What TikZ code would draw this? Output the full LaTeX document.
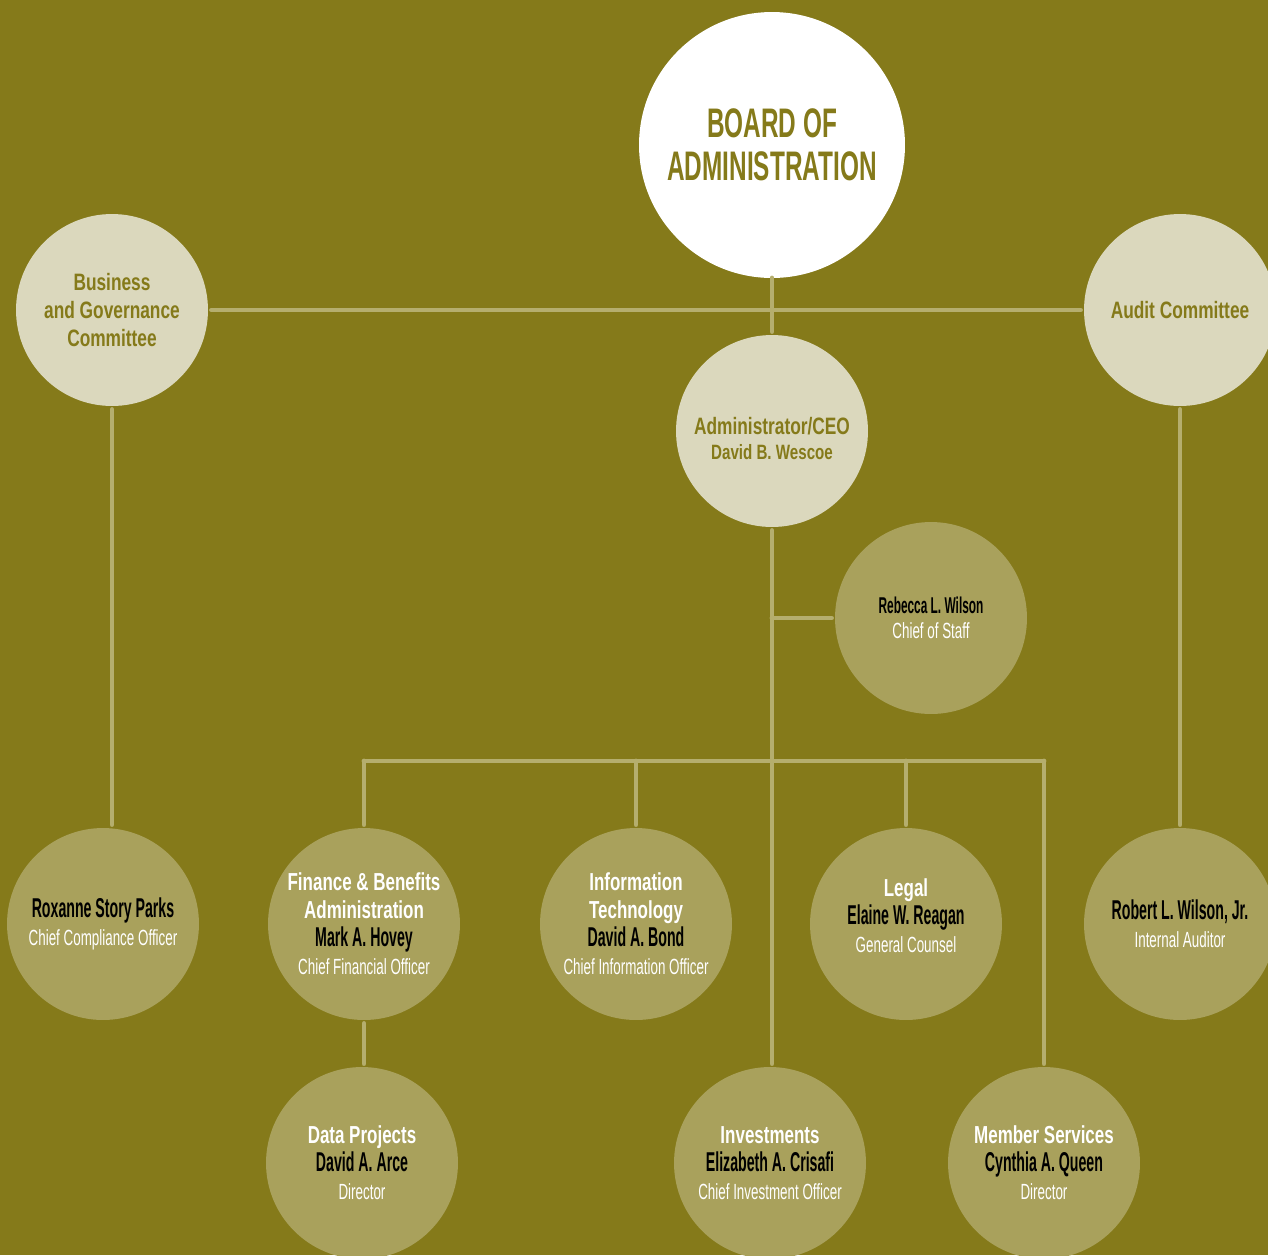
\documentclass[tikz,border=0pt]{standalone}
\usepackage{fontspec}
\usepackage{tikz}
\setmainfont{Liberation Sans}
\newfontfamily\boardfont[FakeStretch=0.59]{Liberation Sans}
\newfontfamily\comfont[FakeStretch=0.73]{Liberation Sans}
\newfontfamily\headfont[FakeStretch=0.69]{Liberation Sans}
\newfontfamily\namefont[FakeStretch=0.52]{Liberation Sans}
\newfontfamily\postfont[FakeStretch=0.61]{Liberation Sans}
\definecolor{olivebg}{HTML}{857A1A}
\definecolor{lightc}{HTML}{DBD8BD}
\definecolor{darkc}{HTML}{A9A15C}
\definecolor{linec}{HTML}{B5AE6E}
\newcommand{\hd}[1]{{\headfont\bfseries\fontsize{14}{16}\selectfont\color{white}#1}}
\newcommand{\nm}[1]{{\namefont\bfseries\fontsize{15.5}{16}\selectfont\color{black}#1}}
\newcommand{\ps}[1]{{\postfont\fontsize{12.5}{16}\selectfont\color{white}#1}}

\begin{document}
\begin{tikzpicture}[x=0.02cm,y=-0.02cm,
  unit/.style={circle,fill=darkc,minimum size=3.84cm,inner sep=0pt,outer sep=2pt,align=center,
    font=\fontsize{14}{16}\selectfont},
  comm/.style={circle,fill=lightc,minimum size=3.84cm,inner sep=0pt,outer sep=2pt,align=center,
    text=olivebg,font=\comfont\bfseries\fontsize{13.5}{16}\selectfont},
  link/.style={draw=linec,line width=2.8pt,line cap=round}]
\fill[olivebg] (0,0) rectangle (1268,1255);
\useasboundingbox (0,0) rectangle (1268,1255);
% top
\node[circle,fill=white,minimum size=5.32cm,inner sep=0pt,outer sep=0pt,align=center,text=olivebg,
  font=\boardfont\bfseries\fontsize{23.5}{24.5}\selectfont] (board) at (772,145) {BOARD OF\\ADMINISTRATION};
\node[comm] (biz) at (112,310) {Business\\and Governance\\Committee};
\node[comm] (audit) at (1180,310) {Audit Committee};
\node[comm,font=\comfont\bfseries\fontsize{13.5}{14.5}\selectfont] (ceo) at (772,431)
  {\mbox{}\\[4pt]Administrator/CEO\\{\fontsize{11.8}{14.5}\selectfont David B. Wescoe}};
% staff
\node[unit,font=\fontsize{13}{14.5}\selectfont] (cos) at (931,618)
  {{\namefont\bfseries\fontsize{13}{14}\selectfont Rebecca L. Wilson}\\\ps{Chief of Staff}};
% second row
\node[unit] (rox) at (103,924) {\nm{Roxanne Story Parks}\\\ps{Chief Compliance Officer}};
\node[unit] (fin) at (364,924) {\hd{Finance \& Benefits}\\\hd{Administration}\\\nm{Mark A. Hovey}\\\ps{Chief Financial Officer}};
\node[unit] (it) at (636,924) {\hd{Information}\\\hd{Technology}\\\nm{David A. Bond}\\\ps{Chief Information Officer}};
\node[unit] (legal) at (906,924) {\hd{Legal}\\\nm{Elaine W. Reagan}\\\ps{General Counsel}\\[-6pt]\mbox{}};
\node[unit] (rob) at (1180,924) {\nm{Robert L. Wilson, Jr.}\\\ps{Internal Auditor}};
% third row
\node[unit] (data) at (362,1163) {\hd{Data Projects}\\\nm{David A. Arce}\\\ps{Director}};
\node[unit] (inv) at (770,1163) {\hd{Investments}\\\nm{Elizabeth A. Crisafi}\\\ps{Chief Investment Officer}};
\node[unit] (mem) at (1044,1163) {\hd{Member Services}\\\nm{Cynthia A. Queen}\\\ps{Director}};
% connectors
\coordinate (bus) at (772,761);
\draw[link] (board) -- (ceo);
\draw[link] (biz) -- (audit);
\draw[link] (biz.south) -- (biz.south |- rox.north);
\draw[link] (audit) -- (rob);
\draw[link] (ceo.south) -- (ceo.south |- inv.north);
\draw[link] (ceo.south |- cos) -- (cos);
\draw[link] (fin.north |- bus) -- (mem.north |- bus);
\draw[link] (fin.north |- bus) -- (fin.north);
\draw[link] (it.north |- bus) -- (it.north);
\draw[link] (legal.north |- bus) -- (legal.north);
\draw[link] (mem.north |- bus) -- (mem.north);
\draw[link] (fin.south) -- (fin.south |- data.north);
\end{tikzpicture}
\end{document}
